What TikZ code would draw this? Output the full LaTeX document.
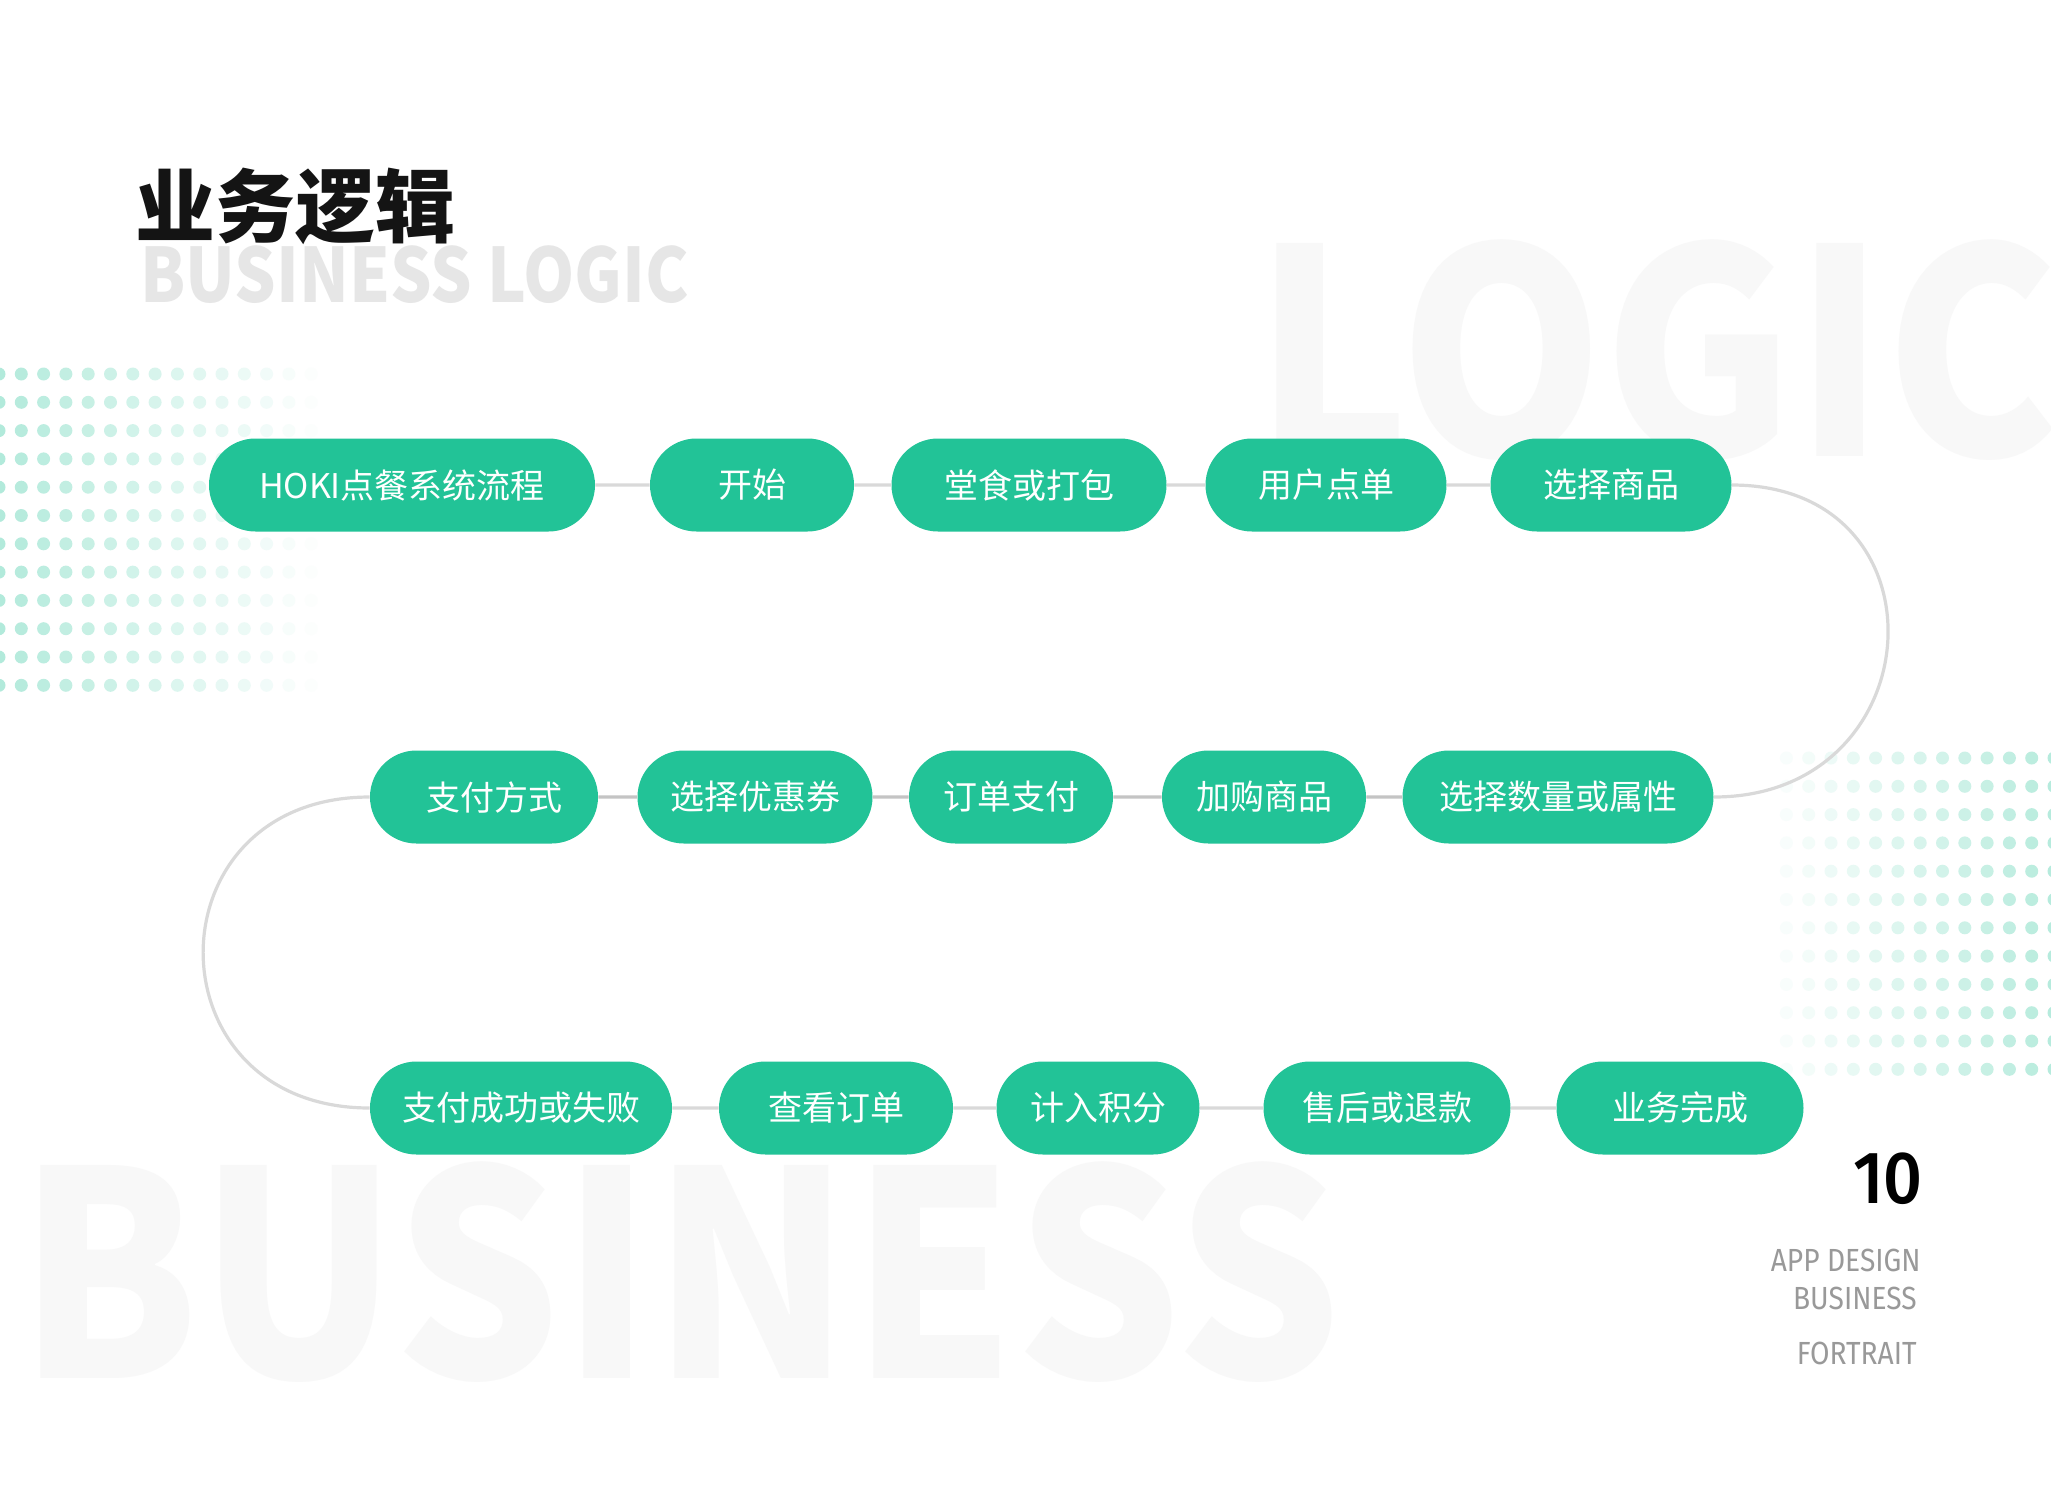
\documentclass[tikz,border=0pt]{standalone}
\usepackage{fontspec}
\newfontfamily\cjk{Noto Sans CJK SC}
\newfontfamily\din{Fira Sans}
\newfontfamily\dinmed{Fira Sans Medium}
\usetikzlibrary{shapes.misc}
\definecolor{pillgreen}{HTML}{22C397}
\definecolor{linegray}{HTML}{D9D9D9}
\definecolor{linedark}{HTML}{C4C4C4}
\definecolor{labelgray}{HTML}{999999}
\definecolor{ghost}{HTML}{F8F8F8}
\definecolor{subgray}{HTML}{E6E6E6}
\begin{document}
\begin{tikzpicture}[x=0.5pt,y=-0.5pt,
        pill/.style={rounded rectangle, fill=pillgreen, text=white, minimum height=46.5pt, inner sep=0pt,
            font=\cjk\fontsize{17}{17}\selectfont},
        link/.style={draw=linegray, line width=1.6pt},
        darklink/.style={link, draw=linedark},
        ghostword/.style={anchor=base west, inner sep=0pt, text=ghost, xscale=0.91,
            font=\cjk\bfseries\fontsize{143}{143}\selectfont},
        footnote/.style={anchor=base east, inner sep=0pt, text=labelgray, xscale=0.88,
            font=\din\fontsize{16}{16}\selectfont}]
    \clip (0,0) rectangle (2051,1484);
    \fill[white] (0,0) rectangle (2051,1484);
    \node[ghostword] (bglogic) at (1254,456) {LOGIC};
    \node[ghostword] (bgbusiness) at (18,1378) {BUSINESS};
    \foreach \row in {0,...,11} {
        \foreach \col in {0,...,14} {
            \pgfmathsetmacro\shade{35-2.4*\col}
            \fill[pillgreen!\shade!white] (-1+22.3*\col,374+28.3*\row) circle[radius=6.5];
        }
        \foreach \col in {0,...,12} {
            \pgfmathsetmacro\shade{33-2.5*\col}
            \fill[pillgreen!\shade!white] (2054-22.3*\col,758+28.3*\row) circle[radius=6.5];
        }
    }
    \node[anchor=west, inner sep=0pt, text=black!92,
        font=\cjk\bfseries\fontsize{40}{40}\selectfont] (title) at (135,206) {业务逻辑};
    \node[anchor=base west, inner sep=0pt, text=subgray, xscale=0.87,
        font=\cjk\bfseries\fontsize{37.5}{37.5}\selectfont] (subtitle) at (140,302) {BUSINESS LOGIC};
    \node[pill, minimum width=193pt] (hoki) at (402,485) {HOKI点餐系统流程};
    \node[pill, minimum width=102pt] (start) at (752,485) {开始};
    \node[pill, minimum width=137.5pt] (dine) at (1029,485) {堂食或打包};
    \node[pill, minimum width=120.5pt] (order) at (1326,485) {用户点单};
    \node[pill, minimum width=120.5pt] (pick) at (1611,485) {选择商品};
    \node[pill, minimum width=155.5pt] (spec) at (1558,797) {选择数量或属性};
    \node[pill, minimum width=102pt] (cart) at (1264,797) {加购商品};
    \node[pill, minimum width=102pt] (paybill) at (1011,797) {订单支付};
    \node[pill, minimum width=117.5pt] (coupon) at (755,797) {选择优惠券};
    \node[pill, minimum width=114pt] (paymode) at (484,797) {\hspace{10pt}支付方式};
    \node[pill, minimum width=151pt] (result) at (521,1108) {支付成功或失败};
    \node[pill, minimum width=117pt] (view) at (836,1108) {查看订单};
    \node[pill, minimum width=101.5pt] (points) at (1098,1108) {计入积分};
    \node[pill, minimum width=123.5pt] (refund) at (1387,1108) {售后或退款};
    \node[pill, minimum width=123.5pt] (done) at (1680,1108) {业务完成};
    \draw[link] (hoki) -- (start);
    \draw[link] (start) -- (dine);
    \draw[link] (dine) -- (order);
    \draw[link] (order) -- (pick);
    \draw[link] (pick.east) to[out=0,in=0,looseness=1.8] (spec.east);
    \draw[darklink] (spec) -- (cart);
    \draw[darklink] (cart) -- (paybill);
    \draw[darklink] (paybill) -- (coupon);
    \draw[darklink] (coupon) -- (paymode);
    \draw[link] (paymode.west) to[out=180,in=180,looseness=1.83] (result.west);
    \draw[link] (result) -- (view);
    \draw[link] (view) -- (points);
    \draw[link] (points) -- (refund);
    \draw[link] (refund) -- (done);
    \node[anchor=base east, inner sep=0pt, xscale=0.92,
        font=\dinmed\fontsize{37}{37}\selectfont] (page) at (1923,1203) {10};
    \node[footnote] (app) at (1921,1271) {APP DESIGN};
    \node[footnote] (biz) at (1917,1309) {BUSINESS};
    \node[footnote] (fort) at (1917,1364) {FORTRAIT};
\end{tikzpicture}
\end{document}
